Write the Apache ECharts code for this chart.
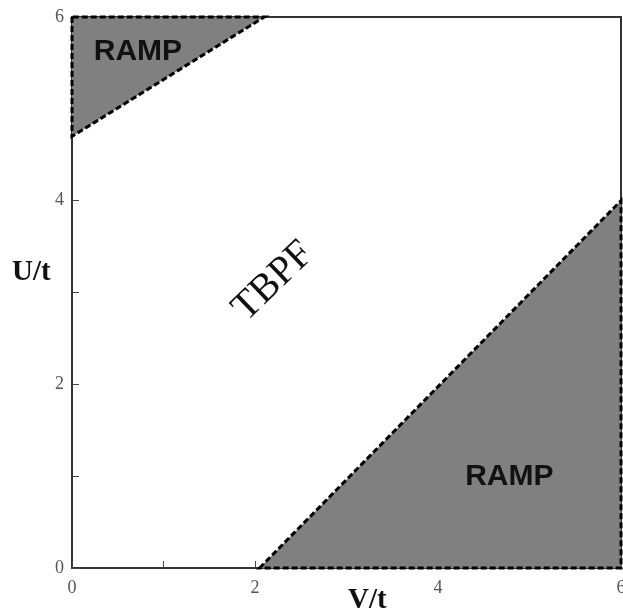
<!DOCTYPE html>
<html><head><meta charset="utf-8">
<script src="https://cdn.jsdelivr.net/npm/echarts@6/dist/echarts.min.js"></script>
<style>html,body{margin:0;padding:0;background:#fff}#c{width:623px;height:612px}</style>
</head><body><div id="c"></div>
<script>
var xTicks = [0, 2, 4, 6];
var yTicks = [0, 2, 4, 6];
var rampUpper = [[0, 6], [0, 4.7], [2.1, 6]];
var rampLower = [[2.05, 0], [6, 4.0], [6, 0]];
var regionLabels = [
  {text: 'RAMP', v: 0.72, u: 5.62, rot: 0, font: 'bold 30px "Liberation Sans", Arial, sans-serif'},
  {text: 'RAMP', v: 4.78, u: 0.99, rot: 0, font: 'bold 30px "Liberation Sans", Arial, sans-serif'},
  {text: 'TBPF', v: 2.2, u: 3.12, rot: 44, font: '40px "Liberation Serif", "Times New Roman", serif'}
];

var chart = echarts.init(document.getElementById('c'));
function polyItem(pts) {
  return function (params, api) {
    return {
      type: 'polygon',
      shape: {points: pts.map(function (p) { return api.coord(p); })},
      style: {fill: '#808080', stroke: '#000', lineWidth: 3, lineDash: [6, 3]}
    };
  };
}
var serif = '"Liberation Serif", "Times New Roman", serif';
chart.setOption({
  animation: false,
  grid: {left: 72, right: 2, top: 17, bottom: 44, show: true, borderColor: '#333', borderWidth: 2,
         outerBoundsMode: 'none', containLabel: false},
  graphic: [
    {type: 'text', left: 348, top: 586, style: {text: 'V/t', font: 'bold 29px ' + serif, fill: '#111'}},
    {type: 'text', left: 12, top: 258, style: {text: 'U/t', font: 'bold 29px ' + serif, fill: '#111'}}
  ],
  xAxis: {
    type: 'value', min: 0, max: 6, interval: 1,
    axisLine: {lineStyle: {color: '#333', width: 2}},
    axisTick: {inside: true, length: 7, lineStyle: {color: '#444'}},
    splitLine: {show: false},
    axisLabel: {
      margin: 11, color: '#555', fontFamily: serif, fontSize: 18,
      formatter: function (v) { return xTicks.indexOf(v) >= 0 ? String(v) : ''; }
    }
  },
  yAxis: {
    type: 'value', min: 0, max: 6, interval: 1,
    axisLine: {lineStyle: {color: '#333', width: 2}},
    axisTick: {inside: true, length: 7, lineStyle: {color: '#444'}},
    splitLine: {show: false},
    axisLabel: {
      margin: 8, color: '#555', fontFamily: serif, fontSize: 18, padding: [5, 0, 0, 0],
      formatter: function (v) { return yTicks.indexOf(v) >= 0 ? String(v) : ''; }
    }
  },
  series: [
    {type: 'custom', renderItem: polyItem(rampUpper), data: [0], clip: false, z: 3},
    {type: 'custom', renderItem: polyItem(rampLower), data: [0], clip: false, z: 3},
    {
      type: 'custom', z: 4, data: regionLabels.map(function (d, i) { return i; }),
      renderItem: function (params, api) {
        var d = regionLabels[params.dataIndex];
        var p = api.coord([d.v, d.u]);
        return {
          type: 'text', x: p[0], y: p[1], rotation: d.rot * Math.PI / 180,
          style: {text: d.text, font: d.font, fill: '#111', align: 'center', verticalAlign: 'middle'}
        };
      }
    }
  ]
});
</script></body></html>
